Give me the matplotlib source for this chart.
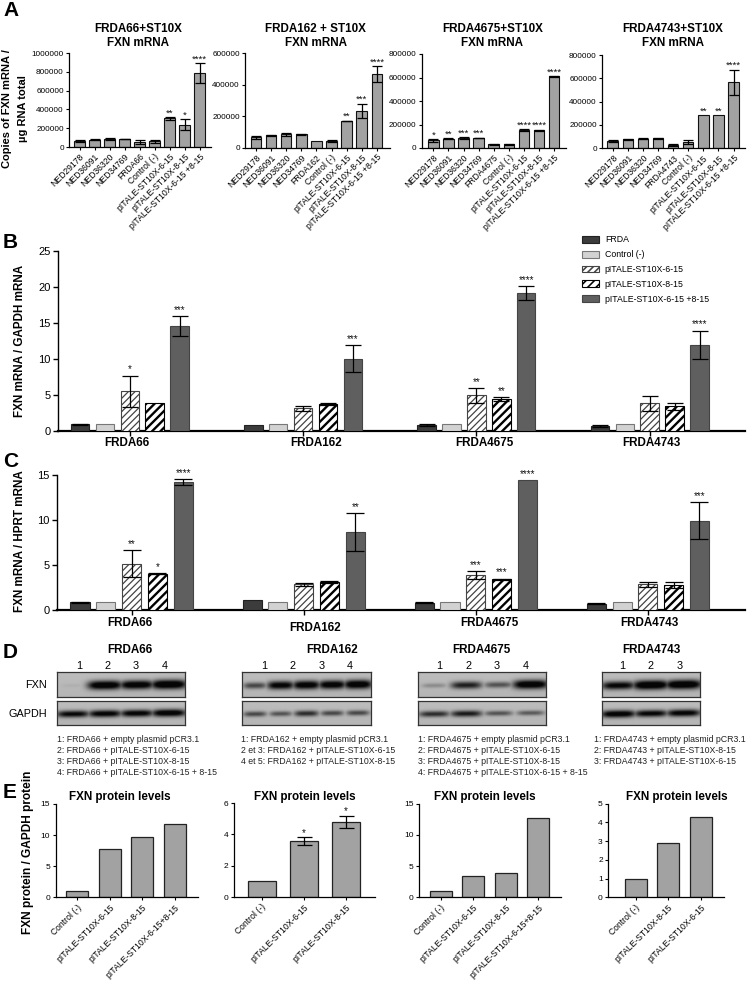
import numpy as np
import matplotlib
matplotlib.use("Agg")
import matplotlib.pyplot as plt
from matplotlib.patches import Patch

W, H = 747, 982
plt.rcParams['font.family'] = ['Liberation Sans', 'DejaVu Sans']
plt.rcParams['hatch.linewidth'] = 1.15

# ---------- DATA ----------
a_titles = ["FRDA66+ST10X\nFXN mRNA", "FRDA162 + ST10X\nFXN mRNA", "FRDA4675+ST10X\nFXN mRNA", "FRDA4743+ST10X\nFXN mRNA"]
a_lines = ["FRDA66", "FRDA162", "FRDA4675", "FRDA4743"]
a_controls = ["NED29178", "NED36091", "NED36320", "NED34769"]
a_tails = ["Control (-)", "pITALE-ST10X-6-15", "pITALE-ST10X-8-15", "pITALE-ST10X-6-15 +8-15"]
a1_vals = [65000, 78000, 85000, 87000, 55000, 60000, 305000, 238000, 790000]
a1_errs = [10000, 3000, 6000, 3000, 18000, 17000, 13000, 60000, 105000]
a1_star = ["", "", "", "", "", "", "**", "*", "****"]
a2_vals = [65000, 78000, 84000, 85000, 42000, 42000, 170000, 233000, 467000]
a2_errs = [12000, 4000, 9000, 4000, 0, 6000, 2000, 47000, 48000]
a2_star = ["", "", "", "", "", "", "**", "***", "****"]
a3_vals = [65000, 78000, 84000, 86000, 32000, 30000, 153000, 150000, 610000]
a3_errs = [13000, 4000, 8000, 2000, 3000, 1000, 10000, 6000, 4000]
a3_star = ["*", "**", "***", "***", "", "", "****", "****", "****"]
a4_vals = [63000, 78000, 83000, 86000, 27000, 52000, 283000, 287000, 565000]
a4_errs = [12000, 3000, 6000, 2000, 6000, 17000, 0, 0, 110000]
a4_star = ["", "", "", "", "", "", "**", "**", "****"]
a_tops = [1000000, 600000, 800000, 800000]
a_ticks = [[0, 200000, 400000, 600000, 800000, 1000000], [0, 200000, 400000, 600000],
           [0, 200000, 400000, 600000, 800000], [0, 200000, 400000, 600000, 800000]]

series = ["FRDA", "Control (-)", "pITALE-ST10X-6-15", "pITALE-ST10X-8-15", "pITALE-ST10X-6-15 +8-15"]
b_vals = [[0.9, 0.9, 5.5, 3.9, 14.5], [0.75, 0.9, 3.1, 3.7, 10.0], [0.8, 0.9, 4.9, 4.4, 19.1], [0.65, 0.9, 3.8, 3.4, 11.9]]
b_errs = [[0.1, 0, 2.15, 0, 1.4], [0, 0, 0.4, 0.15, 1.9], [0.1, 0, 1.0, 0.25, 1.0], [0.2, 0, 1.0, 0.5, 2.0]]
b_star = [["", "", "*", "", "***"], ["", "", "", "", "***"], ["", "", "**", "**", "****"], ["", "", "", "", "****"]]
c_vals = [[0.85, 0.87, 5.15, 4.05, 14.25], [1.08, 0.87, 2.85, 3.1, 8.65], [0.83, 0.87, 3.85, 3.4, 14.45], [0.72, 0.87, 2.85, 2.75, 9.95]]
c_errs = [[0.05, 0, 1.5, 0.03, 0.3], [0, 0, 0.15, 0.12, 2.1], [0.05, 0, 0.45, 0.1, 0], [0.05, 0, 0.25, 0.35, 2.05]]
c_star = [["", "", "**", "*", "****"], ["", "", "", "", "**"], ["", "", "***", "***", "****"], ["", "", "", "", "***"]]

d_fxn = [[0.04, 0.95, 0.92, 1.0], [0.5, 0.85, 0.9, 0.9, 0.95], [0.2, 0.68, 0.45, 0.95], [0.82, 1.0, 1.0]]
d_gapdh = [[0.8, 0.85, 0.85, 0.92], [0.5, 0.45, 0.62, 0.5, 0.5], [0.62, 0.7, 0.45, 0.42], [0.9, 0.82, 0.85]]
d_captions = [
    ["1: FRDA66 + empty plasmid pCR3.1", "2: FRDA66 + pITALE-ST10X-6-15", "3: FRDA66 + pITALE-ST10X-8-15", "4: FRDA66 + pITALE-ST10X-6-15 + 8-15"],
    ["1: FRDA162 + empty plasmid pCR3.1", "2 et 3: FRDA162 + pITALE-ST10X-6-15", "4 et 5: FRDA162 + pITALE-ST10X-8-15"],
    ["1: FRDA4675 + empty plasmid pCR3.1", "2: FRDA4675 + pITALE-ST10X-6-15", "3: FRDA4675 + pITALE-ST10X-8-15", "4: FRDA4675 + pITALE-ST10X-6-15 + 8-15"],
    ["1: FRDA4743 + empty plasmid pCR3.1", "2: FRDA4743 + pITALE-ST10X-8-15", "3: FRDA4743 + pITALE-ST10X-6-15"],
]

e1_labels = ["Control (-)", "pITALE-ST10X-6-15", "pITALE-ST10X-8-15", "pITALE-ST10X-6-15+8-15"]
e1_vals = [1, 7.8, 9.75, 11.85]
e2_labels = ["Control (-)", "pITALE-ST10X-6-15", "pITALE-ST10X-8-15"]
e2_vals = [1, 3.55, 4.8]
e2_errs = [0, 0.25, 0.4]
e2_star = ["", "*", "*"]
e3_labels = ["Control (-)", "pITALE-ST10X-6-15", "pITALE-ST10X-8-15", "pITALE-ST10X-6-15+8-15"]
e3_vals = [1, 3.4, 3.85, 12.75]
e4_labels = ["Control (-)", "pITALE-ST10X-8-15", "pITALE-ST10X-6-15"]
e4_vals = [1, 2.9, 4.3]

# ---------- LAYOUT HELPERS ----------
fig = plt.figure(figsize=(W / 100, H / 100), dpi=100, facecolor='white')

def px_axes(x0, ytop, x1, y0):
    ax = fig.add_axes([x0 / W, 1 - y0 / H, (x1 - x0) / W, (y0 - ytop) / H])
    ax.patch.set_alpha(0)
    for s in ('top', 'right'):
        ax.spines[s].set_visible(False)
    return ax

def ftext(x, y, s, **kw):
    kw.setdefault('ha', 'center')
    kw.setdefault('va', 'center')
    return fig.text(x / W, 1 - y / H, s, **kw)

def stars(ax, xs, tops, labels, size=7.0, dy=1.0):
    for x, t, lab in zip(xs, tops, labels):
        if lab:
            ax.annotate(lab, (x, t), xytext=(0, dy), textcoords='offset points',
                        ha='center', va='bottom', fontsize=size, color='#111111')

def errs(ax, xs, vals, es, cap, lw=0.9):
    for x, v, e in zip(xs, vals, es):
        if e > 0:
            ax.errorbar(x, v, yerr=e, color='black', capsize=cap, elinewidth=lw, capthick=lw, zorder=4)

GREY = '#a2a2a2'

# ---------- PANEL A ----------
a_geo = [(69, 53, 211, 147, 79.5, 15.0), (245, 53, 390, 147.7, 256, 15.1),
         (421.7, 54, 566, 148, 433.3, 15.1), (602, 55, 745, 148.3, 612.7, 15.1)]
a_sets = [(a1_vals, a1_errs, a1_star), (a2_vals, a2_errs, a2_star), (a3_vals, a3_errs, a3_star), (a4_vals, a4_errs, a4_star)]
a_tx = [137.7, 315.7, 492.3, 673]
for i, (geo, (v, e, st)) in enumerate(zip(a_geo, a_sets)):
    x0, yt, x1, y0, c0, step = geo
    ax = px_axes(x0, yt, x1, y0)
    xs = np.arange(len(v))
    ax.bar(xs, v, width=0.7, color=GREY, edgecolor='#111111', linewidth=0.8)
    errs(ax, xs, v, e, 3.4)
    stars(ax, xs, np.array(v) + np.array(e), st, size=6.8, dy=-0.4)
    ax.set_xlim((x0 - c0) / step, (x1 - c0) / step)
    ax.set_ylim(0, a_tops[i])
    ax.set_yticks(a_ticks[i])
    ax.set_yticklabels([str(t) for t in a_ticks[i]], fontsize=5.9)
    ax.set_xticks(xs)
    ax.set_xticklabels(a_controls + [a_lines[i]] + a_tails, rotation=45, ha='right', va='top',
                       rotation_mode='anchor', fontsize=6.2)
    ax.tick_params(axis='both', length=2.5, width=0.8, pad=1.2)
    for s in ('left', 'bottom'):
        ax.spines[s].set_linewidth(0.9)
    l1, l2 = a_titles[i].split("\n")
    ftext(a_tx[i], 28.7, l1, fontsize=8.4, fontweight='bold')
    ftext(a_tx[i], 43, l2, fontsize=8.4, fontweight='bold')

ftext(7, 109, "Copies of FXN mRNA /", rotation=90, fontsize=8.0, fontweight='bold')
ftext(23, 109, "µg RNA total", rotation=90, fontsize=8.0, fontweight='bold')

# ---------- PANELS B AND C ----------
styles = [dict(facecolor='#3c3c3c', edgecolor='#222222'),
          dict(facecolor='#d2d2d2', edgecolor='#777777'),
          dict(facecolor='white', edgecolor='#444444', hatch='/////'),
          dict(facecolor='white', edgecolor='black', hatch='////'),
          dict(facecolor='#5f5f5f', edgecolor='#444444')]
hatch_lw = [1.0, 1.0, 0.9, 1.7, 1.0]

def grouped(geo, vals, es, st, ticks, top, cap, label_pos):
    x0, yt, x1, y0, c0, step, gap = geo
    ax = px_axes(x0, yt, x1, y0)
    for g, (gv, ge, gs) in enumerate(zip(vals, es, st)):
        xs = g * gap + np.arange(len(gv))
        for k, (x, val) in enumerate(zip(xs, gv)):
            with plt.rc_context({'hatch.linewidth': hatch_lw[k]}):
                bars = ax.bar(x, val, width=0.74, linewidth=0.8, zorder=3, **styles[k])
            for b in bars:
                b._hatch_linewidth = hatch_lw[k]
        errs(ax, xs, gv, ge, cap)
        stars(ax, xs, np.array(gv) + np.array(ge), gs, size=7.0, dy=0.8)
    ax.set_xlim((x0 - c0) / step, (x1 - c0) / step)
    ax.set_ylim(0, top)
    ax.set_yticks(ticks)
    ax.set_yticklabels([str(t) for t in ticks], fontsize=8)
    ax.set_xticks([g * gap + 2 for g in range(len(vals))])
    ax.set_xticklabels([])
    ax.tick_params(axis='both', length=3.5, width=1.0, pad=2)
    ax.spines['left'].set_linewidth(1.0)
    ax.spines['bottom'].set_linewidth(1.6)
    for name, (lx, ly) in zip(a_lines, label_pos):
        ftext(lx, ly, name, fontsize=8.4, fontweight='bold')
    return ax

ax_b = grouped((58, 250.7, 745, 430.7, 80, 24.9, 6.96), b_vals, b_errs, b_star, [0, 5, 10, 15, 20, 25], 25, 5.8,
               [(126.7, 442.7), (315.7, 442.7), (484.8, 442.7), (651, 442.7)])
ax_c = grouped((57, 475.3, 745, 610, 80, 25.8, 6.67), c_vals, c_errs, c_star, [0, 5, 10, 15], 15, 6.4,
               [(130, 623), (315, 628), (489.5, 623), (649, 623)])
ftext(20, 341, "FXN mRNA / GAPDH mRNA", rotation=90, fontsize=8.4, fontweight='bold')
ftext(20, 541, "FXN mRNA / HPRT mRNA", rotation=90, fontsize=8.4, fontweight='bold')

handles = [Patch(label=s, linewidth=0.8, **st) for s, st in zip(series, styles)]
fig.legend(handles=handles, loc='upper left', bbox_to_anchor=(582 / W, 1 - 235.5 / H), frameon=False,
           fontsize=6.3, borderpad=0, borderaxespad=0, handlelength=1.9, handleheight=0.8,
           handletextpad=0.7, labelspacing=0.66)

# ---------- PANEL D (blots) ----------
d_boxes = [(57.3, 185), (242, 370.7), (417.7, 545.7), (602.3, 700)]
d_lanes = [[79, 107.7, 136, 164.7], [264, 292.7, 321.3, 349.3], [439.3, 468, 496.7, 525.3], [622.3, 651, 679.7]]
d_tx = [130, 332, 481, 651]
d_cap_x = [57.3, 240.7, 417.7, 594]
d_lane_y = 665.7

def blot(x0, x1, ytop, ybot, levels, thick):
    ax = fig.add_axes([x0 / W, 1 - ybot / H, (x1 - x0) / W, (ybot - ytop) / H])
    nx, ny = int(x1 - x0) * 2, int(ybot - ytop) * 2
    xx, yy = np.meshgrid(np.linspace(0, 1, nx), np.linspace(0, 1, ny))
    img = 0.71 + 0.03 * (1 - yy)
    n = len(levels)
    dark = np.zeros_like(xx)
    for k, lev in enumerate(levels):
        c = (k + 0.5) / n
        w = 0.56 / n * (0.6 + 0.4 * lev)
        h = thick * (0.4 + 0.7 * lev)
        dark = np.maximum(dark, lev * np.exp(-((xx - c) / w) ** 4) * np.exp(-((yy - 0.52 + 0.06 * (xx - 0.5)) / h) ** 2))
    ax.imshow(np.clip(img - 0.70 * np.clip(dark * 1.3, 0, 1), 0, 1), cmap='gray', vmin=0, vmax=1,
              aspect='auto', interpolation='bilinear')
    ax.set_xticks([])
    ax.set_yticks([])
    for s in ax.spines.values():
        s.set_linewidth(0.9)
        s.set_color('#333333')

for i in range(4):
    x0, x1 = d_boxes[i]
    blot(x0, x1, 672.3, 696.7, d_fxn[i], 0.17)
    blot(x0, x1, 701, 725, d_gapdh[i], 0.15)
    ftext(d_tx[i], 650, a_lines[i], fontsize=8.4, fontweight='bold')
    for k, lx in enumerate(d_lanes[i]):
        ftext(lx, d_lane_y, str(k + 1), fontsize=7.8)
    for k, line in enumerate(d_captions[i]):
        ftext(d_cap_x[i], 740 + 10.7 * k, line, fontsize=6.28, ha='left', color='#222222')
ftext(46.7, 685, "FXN", fontsize=7.8, ha='right')
ftext(46.7, 714, "GAPDH", fontsize=7.8, ha='right')

# ---------- PANEL E ----------
def simple(geo, labels, vals, ticks, top, es=None, st=None):
    x0, yt, x1, y0, c0, step, bw = geo
    ax = px_axes(x0, yt, x1, y0)
    xs = np.arange(len(vals))
    ax.bar(xs, vals, width=bw, color=GREY, edgecolor='#222222', linewidth=0.9)
    if es is not None:
        errs(ax, xs, vals, es, 5.4)
        stars(ax, xs, np.array(vals) + np.array(es), st, size=7.0, dy=-0.2)
    ax.set_xlim((x0 - c0) / step, (x1 - c0) / step)
    ax.set_ylim(0, top)
    ax.set_yticks(ticks)
    ax.set_yticklabels([str(t) for t in ticks], fontsize=6.0)
    ax.set_xticks(xs)
    ax.set_xticklabels(labels, rotation=45, ha='right', va='top', rotation_mode='anchor', fontsize=6.2)
    ax.tick_params(axis='both', length=2.5, width=0.8, pad=1.5)
    for s in ('left', 'bottom'):
        ax.spines[s].set_linewidth(0.9)

simple((55.7, 804, 198, 897.3, 77, 32.67, 0.68), e1_labels, e1_vals, [0, 5, 10, 15], 15)
simple((234, 803, 375, 897, 261.7, 42.2, 0.67), e2_labels, e2_vals, [0, 2, 4, 6], 6, e2_errs, e2_star)
simple((419.3, 803.7, 561, 897.3, 440.7, 32.53, 0.68), e3_labels, e3_vals, [0, 5, 10, 15], 15)
simple((608.3, 803.7, 724, 897.3, 635.7, 32.5, 0.68), e4_labels, e4_vals, [0, 1, 2, 3, 4, 5], 5)
for x in (120, 305, 485, 676.7):
    ftext(x, 796.7, "FXN protein levels", fontsize=8.4, fontweight='bold')
ftext(28, 852, "FXN protein / GAPDH protein", rotation=90, fontsize=8.6, fontweight='bold')

# ---------- PANEL LETTERS ----------
for letter, y in zip("ABCDE", (10, 243, 461.7, 652.7, 792.7)):
    ftext(3, y, letter, fontsize=15, fontweight='bold', ha='left')

fig.savefig("out.png", dpi=100, facecolor='white')
